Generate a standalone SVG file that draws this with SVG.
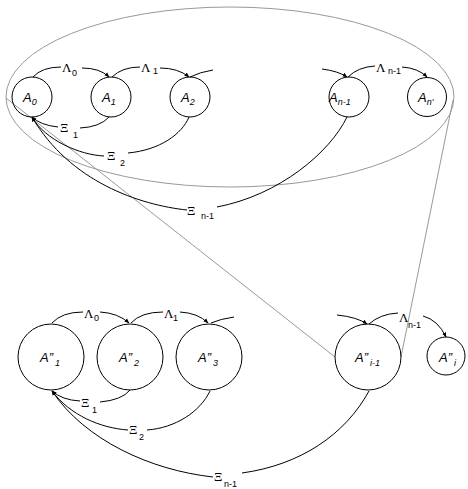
<svg xmlns="http://www.w3.org/2000/svg" width="468" height="489" viewBox="0 0 468 489">
  <style>
    .node { fill: none; stroke: #000; stroke-width: 1; }
    .edge { fill: none; stroke: #000; stroke-width: 1; }
    .arr { marker-end: url(#head); }
    .frame { fill: none; stroke: #999; stroke-width: 1; }
    .nm { font-family: "Liberation Sans", Arial, sans-serif; font-style: italic; font-size: 13px; fill: #000; }
    .ns { font-size: 9px; }
    .gr { font-family: "Liberation Serif", "Times New Roman", serif; font-size: 13px; fill: #000; }
    .gs { font-family: "Liberation Sans", Arial, sans-serif; font-size: 9px; fill: #000; }
  </style>
  <defs>
    <marker id="head" viewBox="0 0 10 10" refX="9" refY="5" markerWidth="5" markerHeight="5" orient="auto" markerUnits="userSpaceOnUse">
      <path d="M0,1 L10,5 L0,9 z" fill="#000"/>
    </marker>
  </defs>
  <rect width="468" height="489" fill="#fff"/>

  <!-- projection frame -->
  <g id="frame">
    <ellipse class="frame" cx="230" cy="97" rx="224" ry="90"/>
    <line class="frame" x1="6" y1="98" x2="335" y2="357"/>
    <line class="frame" x1="453" y1="100" x2="401" y2="357"/>
  </g>

  <!-- upper chain -->
  <g id="A0"><circle class="node" cx="32" cy="97" r="20"/>
    <text class="nm" x="23" y="102">A<tspan class="ns" dy="3">0</tspan></text></g>
  <g id="A1"><circle class="node" cx="111" cy="97" r="20"/>
    <text class="nm" x="102" y="102">A<tspan class="ns" dy="3">1</tspan></text></g>
  <g id="A2"><circle class="node" cx="190" cy="97" r="20"/>
    <text class="nm" x="181" y="102">A<tspan class="ns" dy="3">2</tspan></text></g>
  <g id="An-1"><circle class="node" cx="349" cy="97" r="20"/>
    <text class="nm" x="329" y="102">A<tspan class="ns" dy="3">n-1</tspan></text></g>
  <g id="An"><circle class="node" cx="427" cy="97" r="19.5"/>
    <text class="nm" x="418" y="102">A<tspan class="ns" dy="3">n'</tspan></text></g>

  <!-- lower chain -->
  <g id="B1"><circle class="node" cx="51" cy="357" r="33"/>
    <text class="nm" x="40" y="362">A”<tspan class="ns" dx="2" dy="4">1</tspan></text></g>
  <g id="B2"><circle class="node" cx="130" cy="357" r="33"/>
    <text class="nm" x="119" y="362">A”<tspan class="ns" dx="2" dy="4">2</tspan></text></g>
  <g id="B3"><circle class="node" cx="209" cy="357" r="33"/>
    <text class="nm" x="198" y="362">A”<tspan class="ns" dx="2" dy="4">3</tspan></text></g>
  <g id="Bi-1"><circle class="node" cx="368" cy="357" r="33"/>
    <text class="nm" x="355" y="362">A”<tspan class="ns" dx="2" dy="4">i-1</tspan></text></g>
  <g id="Bi"><circle class="node" cx="446" cy="356" r="19"/>
    <text class="nm" x="439" y="362">A”<tspan class="ns" dx="2" dy="4">i</tspan></text></g>

  <g id="connectors">
    <!-- upper forward transitions -->
    <path class="edge" d="M33,77 Q42,67 61,67"/>
    <path class="edge arr" d="M82,68 Q100,68 109,77"/>
    <path class="edge" d="M112,77 Q122,67 140,67"/>
    <path class="edge arr" d="M160,68 Q178,68 189,77"/>
    <path class="edge" d="M190,77 Q200,72 213,70"/>
    <path class="edge arr" d="M322,69 Q338,71 347,77"/>
    <path class="edge" d="M348,77 Q358,67 375,66"/>
    <path class="edge arr" d="M402,67 Q418,68 427,77"/>
    <!-- upper backward transitions -->
    <path class="edge" d="M109,117 Q100,127 80,128"/>
    <path class="edge arr" d="M58,127 Q40,125 32,117"/>
    <path class="edge" d="M189,117 C182,134 160,150 128,153"/>
    <path class="edge arr" d="M104,156 C80,155 45,140 32,117"/>
    <path class="edge" d="M347,117 C330,152 280,195 217,207"/>
    <path class="edge arr" d="M187,210 C140,205 70,182 32,117"/>

    <!-- lower forward transitions -->
    <path class="edge" d="M52,323 Q62,312 83,312"/>
    <path class="edge arr" d="M100,312 Q118,313 129,323"/>
    <path class="edge" d="M131,323 Q141,312 163,312"/>
    <path class="edge arr" d="M180,312 Q198,313 208,323"/>
    <path class="edge" d="M211,323 Q220,319 234,317"/>
    <path class="edge arr" d="M337,315 Q357,317 367,324"/>
    <path class="edge" d="M369,324 Q380,314 398,313"/>
    <path class="edge arr" d="M423,316 Q438,320 446,337"/>
    <!-- lower backward transitions -->
    <path class="edge" d="M130,390 Q122,400 100,402"/>
    <path class="edge arr" d="M80,401 Q62,400 52,391"/>
    <path class="edge" d="M210,391 C200,412 175,428 147,430"/>
    <path class="edge arr" d="M128,430 C100,428 70,415 52,391"/>
    <path class="edge" d="M369,391 C345,435 300,465 242,473"/>
    <path class="edge arr" d="M213,477 C150,470 85,440 52,391"/>
  </g>

  <!-- transition labels -->
  <g id="labels">
    <text class="gr" x="62" y="72">Λ</text><text class="gs" x="72" y="76">0</text>
    <text class="gr" x="141" y="72">Λ</text><text class="gs" x="153" y="74">1</text>
    <text class="gr" x="376" y="72">Λ</text><text class="gs" x="388" y="74">n-1</text>
    <text class="gr" x="60" y="132">Ξ</text><text class="gs" x="73" y="138">1</text>
    <text class="gr" x="107" y="160">Ξ</text><text class="gs" x="120" y="166">2</text>
    <text class="gr" x="187" y="215">Ξ</text><text class="gs" x="201" y="219">n-1</text>

    <text class="gr" x="84" y="318">Λ</text><text class="gs" x="94" y="321">0</text>
    <text class="gr" x="164" y="318">Λ</text><text class="gs" x="173" y="321">1</text>
    <text class="gr" x="399" y="322">Λ</text><text class="gs" x="408" y="328">n-1</text>
    <text class="gr" x="81" y="407">Ξ</text><text class="gs" x="92" y="413">1</text>
    <text class="gr" x="129" y="434">Ξ</text><text class="gs" x="139" y="440">2</text>
    <text class="gr" x="214" y="481">Ξ</text><text class="gs" x="224" y="487">n-1</text>
  </g>
</svg>
